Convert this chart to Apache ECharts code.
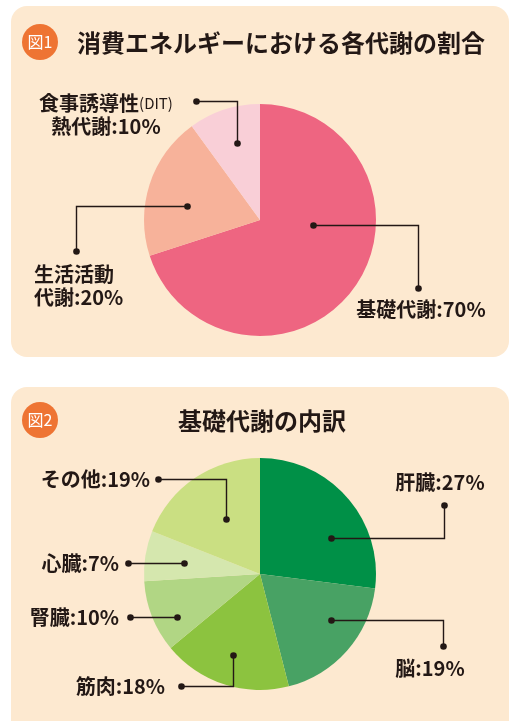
<!DOCTYPE html>
<html>
<head>
<meta charset="utf-8">
<script src="https://cdn.jsdelivr.net/npm/echarts@6/dist/echarts.min.js"></script>
<style>
  html, body { margin: 0; padding: 0; background: #fff; }
  #chart { width: 516px; height: 721px; }
</style>
</head>
<body>
<div id="chart"></div>
<script>
// 図1 消費エネルギーの内訳
const energyNames = ['基礎代謝', '生活活動代謝', '食事誘導性(DIT)熱代謝']
const energyLabels = ['基礎代謝', '生活活動\n代謝', '食事誘導性{s|(DIT)}\n熱代謝']
const energyValues = [70, 20, 10]

// 図2 基礎代謝の内訳
const organNames = ['肝臓', '脳', '筋肉', '腎臓', '心臓', 'その他']
const organValues = [27, 19, 18, 10, 7, 19]

const titles = ['消費エネルギーにおける各代謝の割合', '基礎代謝の内訳']
const badges = ['図1', '図2']

const energyColors = ['#EE6581', '#F7B29A', '#F9CFD7']
const organColors = ['#009047', '#48A264', '#8CC33F', '#B1D684', '#D5E7AE', '#CADF82']

const FONT = '"Noto Sans CJK JP", "Noto Sans", sans-serif'
const INK = '#231815'
const PANEL = '#FDE9D0'
const R = 116
const centers = [[260, 220], [260, 574]]

// 引き出し線の配置 (t: 扇形内の角度位置, r: 半径比, dir: 最初に伸ばす向き)
const energyLeaders = [
  { t: 0.38, r: 0.46, dir: 'h', ox: 418, oy: 288, lx: 421, ly: 309, align: 'center' },
  { t: 0.40, r: 0.64, dir: 'h', ox: 76, oy: 251, lx: 34, ly: 286, align: 'left' },
  { t: 0.54, r: 0.69, dir: 'v', ox: 196, oy: 101, lx: 106, ly: 115, align: 'center' }
]
const organLeaders = [
  { t: 0.65, r: 0.69, dir: 'h', ox: 444, oy: 505, lx: 440, ly: 482, align: 'center' },
  { t: 0.38, r: 0.73, dir: 'h', ox: 443, oy: 646, lx: 430, ly: 668, align: 'center' },
  { t: 0.51, r: 0.74, dir: 'v', ox: 181, oy: 686, lx: 165, ly: 686, align: 'right' },
  { t: 0.34, r: 0.81, dir: 'h', ox: 130, oy: null, lx: 119, ly: 617, align: 'right' },
  { t: 0.47, r: 0.66, dir: 'h', ox: 128, oy: null, lx: 119, ly: 563, align: 'right' },
  { t: 0.54, r: 0.56, dir: 'v', ox: 158, oy: 479, lx: 150, ly: 479, align: 'right' }
]

// 値から扇形の角度を求め、引き出し線の点を計算する
function leaderPoints(values, leaders, center) {
  const total = values.reduce((s, v) => s + v, 0)
  let acc = 0
  return values.map((v, i) => {
    const start = acc / total * 360
    acc += v
    const end = acc / total * 360
    const c = leaders[i]
    const a = (start + (end - start) * c.t) * Math.PI / 180
    const inner = [Math.round(center[0] + Math.sin(a) * R * c.r) + 0.5, Math.round(center[1] - Math.cos(a) * R * c.r) + 0.5]
    const outer = [c.ox + 0.5, c.oy == null ? inner[1] : c.oy + 0.5]
    const elbow = c.dir === 'h' ? [outer[0], inner[1]] : [inner[0], outer[1]]
    return [inner, elbow, outer]
  })
}

const leaderPts = [
  leaderPoints(energyValues, energyLeaders, centers[0]),
  leaderPoints(organValues, organLeaders, centers[1])
]
const leaderCfg = [energyLeaders, organLeaders]

// 引き出し線と両端の点
const leaderEls = []
leaderPts.forEach(list => list.forEach(pts => {
  leaderEls.push({ type: 'polyline', z: 99, shape: { points: pts }, style: { stroke: INK, lineWidth: 1.4, fill: null } })
  ;[pts[0], pts[2]].forEach(p => {
    leaderEls.push({ type: 'circle', z: 100, shape: { cx: p[0], cy: p[1], r: 3.3 }, style: { fill: INK } })
  })
}))

const panels = [
  { type: 'rect', z: 0, shape: { x: 11, y: 6, width: 498, height: 351, r: 16 }, style: { fill: PANEL } },
  { type: 'rect', z: 0, shape: { x: 11, y: 387, width: 498, height: 400, r: 16 }, style: { fill: PANEL } }
]

const badgeEls = []
badges.forEach((b, i) => {
  const cy = i === 0 ? 42 : 420
  badgeEls.push({ type: 'circle', z: 1, shape: { cx: 40, cy, r: 18 }, style: { fill: '#EE7433' } })
  badgeEls.push({
    type: 'text', z: 2, x: 40, y: cy,
    style: { text: b, fill: '#fff', fontSize: 16, fontFamily: FONT, align: 'center', verticalAlign: 'middle' }
  })
})

function pieSeries(idx, names, labels, values, colors) {
  return {
    type: 'pie',
    center: centers[idx],
    radius: R,
    startAngle: 90,
    clockwise: true,
    silent: true,
    avoidLabelOverlap: false,
    data: values.map((v, i) => ({ name: names[i], value: v, itemStyle: { color: colors[i] } })),
    label: {
      show: true,
      position: 'outside',
      formatter: p => labels[p.dataIndex] + ':' + p.value + '%',
      color: INK,
      fontFamily: FONT,
      fontSize: 20,
      fontWeight: 'bold',
      lineHeight: 23,
      rich: {
        s: { fontSize: 15, fontWeight: 'normal', color: INK, fontFamily: FONT, lineHeight: 23, verticalAlign: 'middle' }
      }
    },
    labelLine: { show: false },
    labelLayout: params => {
      const c = leaderCfg[idx][params.dataIndex]
      return { x: c.lx, y: c.ly, align: c.align, verticalAlign: 'middle' }
    }
  }
}

const chart = echarts.init(document.getElementById('chart'))

chart.setOption({
  backgroundColor: '#ffffff',
  animation: false,
  title: [
    {
      text: titles[0], left: 77, top: 31, padding: 0,
      textStyle: { fontSize: 24, fontWeight: 'bold', color: INK, fontFamily: FONT }
    },
    {
      text: titles[1], left: 178, top: 409, padding: 0,
      textStyle: { fontSize: 24, fontWeight: 'bold', color: INK, fontFamily: FONT }
    }
  ],
  graphic: [...panels, ...badgeEls, ...leaderEls],
  series: [
    pieSeries(0, energyNames, energyLabels, energyValues, energyColors),
    pieSeries(1, organNames, organNames, organValues, organColors)
  ]
})
</script>
</body>
</html>
